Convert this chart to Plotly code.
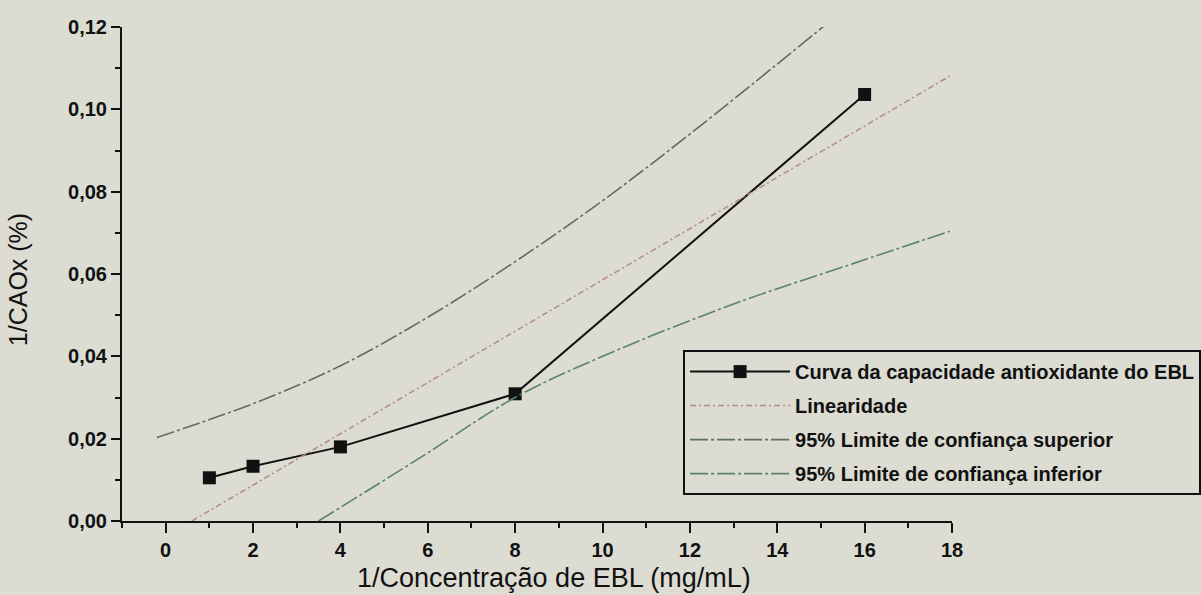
import plotly.graph_objects as go

# Data
x_curve = [1, 2, 4, 8, 16]
y_curve = [0.0105, 0.0133, 0.0180, 0.0309, 0.1036]

x_lin = [0.6, 17.95]
y_lin = [0.0, 0.1081]

x_upper = [-0.2, 2, 4, 6, 8, 10, 12, 14, 15.1]
y_upper = [0.0203, 0.0285, 0.0377, 0.0495, 0.0630, 0.0778, 0.0940, 0.1110, 0.1205]

x_lower = [3.5, 5.8, 8, 10, 13, 15.7, 17.95]
y_lower = [0.0, 0.0152, 0.0300, 0.0400, 0.0527, 0.0624, 0.0704]

names = [
    "Curva da capacidade antioxidante do EBL",
    "Linearidade",
    "95% Limite de confiança superior",
    "95% Limite de confiança inferior",
]

x_tickvals = list(range(0, 19, 2))
y_tickvals = [0, 0.02, 0.04, 0.06, 0.08, 0.10, 0.12]

BG = "#dcdcd2"
FONT = "Liberation Sans, Arial, sans-serif"

fig = go.Figure()
fig.add_trace(go.Scatter(
    x=x_curve, y=y_curve, mode="lines+markers", name=names[0], legendgroup="a",
    line=dict(color="#111111", width=2),
    marker=dict(symbol="square", size=13, color="#111111"),
))
fig.add_trace(go.Scatter(
    x=x_lin, y=y_lin, mode="lines", name=names[1], legendgroup="b",
    line=dict(color="#b58a8a", width=1.5, dash="6px,3px,2px,3px"),
))
fig.add_trace(go.Scatter(
    x=x_upper, y=y_upper, mode="lines", name=names[2], legendgroup="c",
    line=dict(color="#5e6e60", width=1.6, dash="18px,3px,3px,3px"), line_shape="spline",
))
fig.add_trace(go.Scatter(
    x=x_lower, y=y_lower, mode="lines", name=names[3], legendgroup="d",
    line=dict(color="#5a8562", width=1.6, dash="18px,3px,3px,3px"), line_shape="spline",
))

fig.update_layout(
    width=1201, height=595,
    paper_bgcolor=BG, plot_bgcolor=BG,
    margin=dict(l=122, r=249, t=27, b=74, autoexpand=False),
    separators=",.",
    font=dict(family=FONT, color="#111111"),
    showlegend=True,
    legend=dict(
        x=0.676, y=0.346, xanchor="left", yanchor="top",
        bgcolor="rgba(0,0,0,0)", bordercolor="#111111", borderwidth=2,
        font=dict(family=FONT, size=20, color="#111111", weight="bold"),
        tracegroupgap=5, itemwidth=100,
    ),
    xaxis=dict(
        range=[-1, 18], tickvals=x_tickvals, ticks="outside", ticklen=10, tickwidth=2,
        tickcolor="#111111", showline=True, linecolor="#111111", linewidth=2,
        showgrid=False, zeroline=False,
        tickfont=dict(family=FONT, size=20, weight="bold"),
        minor=dict(dtick=1, ticks="outside", ticklen=5, tickwidth=2, tickcolor="#111111"),
    ),
    yaxis=dict(
        range=[0, 0.12], tickvals=y_tickvals, tickformat=".2f", ticks="outside", ticklen=9,
        tickwidth=2, tickcolor="#111111", showline=True, linecolor="#111111", linewidth=2,
        showgrid=False, zeroline=False,
        tickfont=dict(family=FONT, size=20, weight="bold"),
        minor=dict(dtick=0.01, ticks="outside", ticklen=5, tickwidth=2, tickcolor="#111111"),
    ),
    annotations=[
        dict(text="1/Concentração de EBL (mg/mL)", xref="paper", yref="paper",
             x=0.5205, y=-0.115, xanchor="center", yanchor="middle", showarrow=False,
             font=dict(family=FONT, size=27, color="#111111")),
        dict(text="1/CAOx (%)", xref="paper", yref="paper", textangle=-90,
             x=-0.125, y=0.488, xanchor="center", yanchor="middle", showarrow=False,
             font=dict(family=FONT, size=25, color="#111111")),
    ],
)

fig.write_html(
    "out.html",
    config={"displayModeBar": False},
    post_script="document.body.style.margin='0';document.body.style.background='%s';" % BG,
)
